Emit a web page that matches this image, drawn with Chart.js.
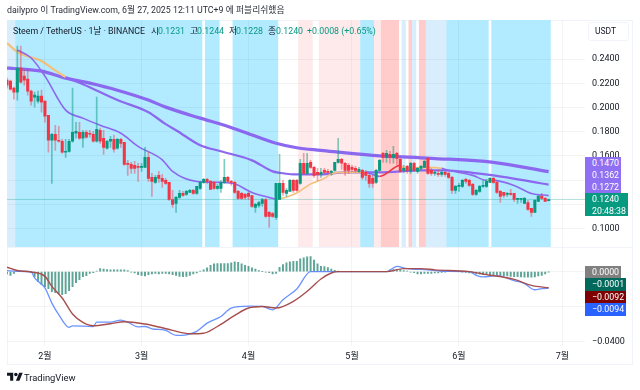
<!DOCTYPE html>
<html lang="ko">
<head>
<meta charset="utf-8">
<title>Steem / TetherUS</title>
<script src="https://cdn.jsdelivr.net/npm/chart.js@4"></script>
<style>
    html, body { margin: 0; padding: 0; background: #fff; }
    #wrap {
        position: relative; width: 640px; height: 390px; overflow: hidden;
        font-family: Roboto, "Noto Sans CJK KR", sans-serif; color: #131722;
    }
    #wrap > * { position: absolute; }
    #frame { left: 7px; top: 20px; width: 626px; height: 345px; border: 1px solid #f0f3fa; box-sizing: border-box; }
    #divider { left: 7px; top: 247px; width: 625px; height: 1px; background: #f0f3fa; }
    canvas { left: 0; top: 0; }
    #title { left: 7px; top: 4px; font-size: 8.8px; line-height: 13px; white-space: nowrap; color: #2a2e39; }
    .legend { top: 25px; font-size: 8.8px; line-height: 12px; white-space: nowrap; }
    .teal { color: #089981; }
    #usdt {
        left: 588px; top: 22px; width: 41px; height: 19px; box-sizing: border-box;
        border: 1px solid #f0f3fa; border-radius: 3px; font-size: 8.5px; line-height: 17px; padding-left: 6px;
    }
    .tag { left: 585px; color: #fff; font-size: 8.8px; line-height: 12px; padding-left: 7px; box-sizing: border-box; }
    #brand { left: 24px; top: 371px; font-size: 9.4px; line-height: 14px; color: #131722; }
</style>
</head>
<body>
<div id="wrap">
    <div id="frame"></div>
    <canvas id="main-chart" width="640" height="390"></canvas>
    <div id="divider"></div>
    <div id="title">dailypro 이 TradingView.com, 6월 27, 2025 12:11 UTC+9 에 퍼블리쉬했음</div>
    <div class="legend" style="left:13px">Steem / TetherUS · 1날 · BINANCE</div>
    <div class="legend" style="left:151px">시</div><div class="legend teal" style="left:158px">0.1231</div>
    <div class="legend" style="left:190px">고</div><div class="legend teal" style="left:197px">0.1244</div>
    <div class="legend" style="left:229px">저</div><div class="legend teal" style="left:236px">0.1228</div>
    <div class="legend" style="left:268px">종</div><div class="legend teal" style="left:276px">0.1240</div>
    <div class="legend teal" style="left:307px">+0.0008 (+0.65%)</div>
    <div id="usdt">USDT</div>
    <svg style="left:7px;top:371px" width="16" height="12.4" viewBox="0 0 36 28"><path fill="#131722" d="M14 22H7V11H0V4h14v18zM28 22h-8l7.5-18h8L28 22z"/><circle fill="#131722" cx="20" cy="8" r="4"/></svg>
    <div id="brand">TradingView</div>
</div>

<script>
// day 0 = Jan 21, one bar per day up to Jun 27
const monthDays = [11, 39, 70, 100, 131, 161]
const monthLabels = ['2월', '3월', '4월', '5월', '6월', '7월']
const priceTicks = [0.24, 0.22, 0.20, 0.18, 0.16, 0.14, 0.12, 0.10]
const macdTicks = [0, -0.02, -0.04]

const openVals = [
    .2226, .2218, .2160, .2127, .2326, .2259, .2234, .2135, .2086, .2052,
    .2094, .2052, .1936, .1729, .1779, .1729, .1721, .1630, .1638, .1721,
    .1787, .1795, .1746, .1795, .1787, .1779, .1721, .1812, .1746, .1663,
    .1721, .1737, .1663, .1737, .1713, .1539, .1530, .1522, .1514, .1505,
    .1505, .1588, .1423, .1381, .1439, .1414, .1398, .1381, .1240, .1207,
    .1257, .1290, .1282, .1298, .1315, .1290, .1331, .1381, .1406, .1389,
    .1381, .1331, .1331, .1381, .1423, .1389, .1381, .1307, .1290, .1282,
    .1290, .1273, .1174, .1191, .1207, .1240, .1133, .1124, .1091, .1240,
    .1373, .1290, .1307, .1398, .1398, .1373, .1539, .1456, .1547, .1505,
    .1464, .1447, .1481, .1472, .1464, .1481, .1547, .1572, .1539, .1522,
    .1505, .1497, .1472, .1481, .1464, .1439, .1414, .1381, .1481, .1621,
    .1588, .1613, .1588, .1621, .1572, .1481, .1514, .1472, .1539, .1472,
    .1497, .1505, .1580, .1481, .1456, .1456, .1447, .1464, .1456, .1423,
    .1315, .1348, .1348, .1406, .1398, .1365, .1282, .1307, .1348, .1348,
    .1381, .1414, .1381, .1307, .1298, .1282, .1290, .1290, .1240, .1240,
    .1207, .1215, .1166, .1133, .1224, .1265, .1249, .1231
]
const highVals = [
    .2243, .2226, .2168, .2508, .2508, .2309, .2317, .2143, .2127, .2135,
    .2143, .2052, .1936, .1787, .1853, .1845, .1737, .1737, .1737, .2160,
    .1878, .1878, .1812, .1812, .1812, .1804, .2086, .1829, .1812, .1729,
    .1762, .1771, .1746, .1746, .1713, .1563, .1547, .1555, .1539, .1539,
    .1671, .1630, .1456, .1439, .1472, .1447, .1414, .1381, .1315, .1265,
    .1315, .1307, .1315, .1323, .1323, .1348, .1389, .1414, .1414, .1398,
    .1389, .1365, .1398, .1572, .1431, .1398, .1389, .1315, .1298, .1290,
    .1298, .1273, .1207, .1224, .1249, .1249, .1141, .1133, .1373, .1613,
    .1398, .1331, .1406, .1406, .1406, .1572, .1621, .1621, .1563, .1514,
    .1497, .1497, .1497, .1489, .1481, .1547, .1746, .1580, .1547, .1539,
    .1522, .1514, .1505, .1489, .1481, .1456, .1439, .1489, .1572, .1630,
    .1646, .1638, .1679, .1630, .1580, .1522, .1522, .1547, .1547, .1505,
    .1522, .1563, .1588, .1497, .1472, .1481, .1481, .1472, .1464, .1431,
    .1356, .1373, .1406, .1414, .1406, .1373, .1323, .1356, .1398, .1406,
    .1423, .1423, .1389, .1315, .1298, .1298, .1323, .1290, .1249, .1249,
    .1257, .1232, .1166, .1240, .1273, .1290, .1257, .1244
]
const lowVals = [
    .2160, .2143, .2069, .2061, .2201, .2185, .2102, .2019, .2003, .2036,
    .1961, .1878, .1630, .1373, .1646, .1713, .1621, .1588, .1630, .1713,
    .1746, .1737, .1671, .1746, .1754, .1713, .1713, .1704, .1613, .1655,
    .1671, .1630, .1655, .1671, .1522, .1439, .1456, .1456, .1389, .1472,
    .1505, .1389, .1265, .1373, .1381, .1340, .1365, .1232, .1174, .1133,
    .1249, .1265, .1273, .1298, .1282, .1282, .1323, .1373, .1373, .1323,
    .1323, .1323, .1298, .1373, .1381, .1356, .1290, .1240, .1240, .1240,
    .1240, .1174, .1133, .1174, .1182, .1091, .1008, .1091, .1075, .1240,
    .1273, .1265, .1307, .1298, .1307, .1365, .1447, .1447, .1497, .1423,
    .1398, .1423, .1456, .1456, .1439, .1472, .1539, .1489, .1439, .1456,
    .1472, .1464, .1464, .1406, .1398, .1340, .1340, .1373, .1472, .1547,
    .1547, .1539, .1539, .1530, .1464, .1464, .1456, .1456, .1472, .1456,
    .1481, .1505, .1447, .1439, .1439, .1431, .1431, .1431, .1414, .1290,
    .1290, .1307, .1340, .1373, .1348, .1273, .1273, .1298, .1340, .1340,
    .1381, .1373, .1290, .1215, .1257, .1265, .1273, .1224, .1207, .1215,
    .1207, .1149, .1099, .1133, .1224, .1240, .1224, .1228
]
const closeVals = [
    .2185, .2152, .2127, .2326, .2210, .2226, .2135, .2052, .2102, .2094,
    .2044, .1928, .1729, .1779, .1729, .1721, .1630, .1638, .1721, .1795,
    .1804, .1746, .1795, .1754, .1779, .1721, .1820, .1721, .1671, .1721,
    .1737, .1655, .1737, .1704, .1530, .1530, .1497, .1497, .1505, .1514,
    .1588, .1414, .1389, .1423, .1414, .1389, .1373, .1240, .1199, .1257,
    .1290, .1273, .1307, .1315, .1290, .1348, .1381, .1406, .1389, .1323,
    .1331, .1348, .1381, .1423, .1389, .1381, .1298, .1249, .1249, .1257,
    .1265, .1182, .1199, .1215, .1240, .1099, .1099, .1099, .1373, .1373,
    .1298, .1315, .1398, .1315, .1315, .1539, .1456, .1539, .1505, .1439,
    .1447, .1464, .1464, .1464, .1472, .1547, .1572, .1539, .1481, .1481,
    .1489, .1481, .1489, .1423, .1439, .1373, .1373, .1481, .1563, .1588,
    .1621, .1588, .1613, .1580, .1472, .1497, .1481, .1539, .1481, .1497,
    .1514, .1555, .1456, .1456, .1464, .1447, .1464, .1447, .1423, .1315,
    .1348, .1356, .1398, .1389, .1356, .1282, .1315, .1348, .1356, .1389,
    .1414, .1381, .1298, .1265, .1273, .1290, .1282, .1240, .1249, .1249,
    .1249, .1157, .1133, .1232, .1265, .1249, .1224, .1240
]
const lastClose = 0.1240

// moving averages at the days listed
const maSlowDays = [0, 2, 10, 17, 24, 32, 41, 46, 56, 63, 68, 78, 84, 91, 106, 123, 141, 157]
const maSlowVals = [.2326, .2322, .2301, .2243, .2201, .2143, .2061, .2003, .1912, .1853, .1804, .1704, .1667, .1646, .1605, .1580, .1547, .1470]

const maMidDays = [0, 3, 10, 13, 17, 22, 32, 41, 46, 49, 56, 62, 71, 77, 79, 83, 91, 98, 105, 108, 120, 127, 135, 141, 150, 157]
const maMidVals = [.2533, .2459, .2384, .2326, .2251, .2193, .2061, .1961, .1862, .1812, .1688, .1638, .1563, .1472, .1460, .1447, .1447, .1464, .1464, .1464, .1481, .1481, .1460, .1439, .1398, .1362]
const maMidState = ['o', 'o', 'o', 'o']

const maFastDays = [3, 7, 11, 17, 22, 27, 33, 38, 45, 48, 55, 62, 66, 71, 76, 78, 84, 88, 92, 94, 98, 104, 106, 108, 114, 115, 122, 126, 128, 135, 139, 141, 147, 152, 157]
const maFastVals = [.2475, .2409, .2259, .1978, .1912, .1853, .1787, .1679, .1568, .1472, .1389, .1381, .1369, .1298, .1257, .1244, .1294, .1369, .1414, .1452, .1464, .1464, .1447, .1431, .1522, .1497, .1505, .1497, .1481, .1439, .1398, .1398, .1356, .1290, .1272]
const maFastState = ['p', 'p', 'p', 'p', 'p', 'p', 'p', 'p', 'p', 'p', 'p', 'p', 'p', 'p', 'p', 'o', 'o', 'o', 'o', 'o', 'o', 'p', 'p', 'r', 'o', 'o', 'o', 'p', 'p', 'p', 'o']

// background state per run of days: C cyan, L light blue, P pale red, R red, W none
const bandRuns = [['L', 3], ['C', 54], ['W', 1], ['C', 4], ['W', 4], ['C', 13], ['W', 6], ['P', 4], ['W', 2], ['P', 12], ['C', 4], ['P', 2], ['R', 5], ['W', 1], ['L', 1], ['W', 1], ['R', 1], ['L', 1], ['W', 1], ['R', 2], ['L', 6], ['C', 12], ['W', 1], ['C', 17]]

const macdHist = [
    -.0013, -.0021, -.0011, 0, 0, 0, 0, -.0006, -.0029, -.0057,
    -.0074, -.0086, -.0097, -.0114, -.0120, -.0126, -.0131, -.0126, -.0109, -.0086,
    -.0063, -.0046, -.0029, -.0023, -.0011, -.0006, .0003, .0017, .0015, .0011,
    .0010, .0010, .0010, .0010, .0010, .0006, -.0002, -.0007, -.0017, -.0021,
    -.0025, -.0017, -.0013, -.0011, -.0013, -.0011, -.0010, -.0013, -.0017, -.0021,
    -.0027, -.0029, -.0027, -.0021, -.0013, -.0007, .0002, .0010, .0021, .0036,
    .0044, .0046, .0046, .0046, .0046, .0050, .0055, .0053, .0044, .0036,
    .0030, .0021, .0015, .0006, 0, -.0002, -.0006, -.0013, -.0011, .0025,
    .0040, .0050, .0055, .0059, .0059, .0072, .0078, .0084, .0086, .0065,
    .0044, .0030, .0029, .0023, .0014, .0007, .0002, 0, 0, 0,
    0, 0, 0, 0, 0, 0, 0, 0, 0, 0,
    0, .0010, .0011, .0013, .0011, .0006, .0002, -.0002, -.0006, -.0013,
    -.0013, -.0011, -.0010, -.0010, -.0008, -.0008, -.0004, -.0002, 0, 0,
    0, 0, -.0002, -.0004, -.0007, -.0011, -.0013, -.0015, -.0017, -.0017,
    -.0019, -.0021, -.0023, -.0023, -.0023, -.0025, -.0027, -.0029, -.0029, -.0030,
    -.0032, -.0032, -.0032, -.0030, -.0025, -.0021, -.0013, -.0001
]
const macdLineDays = [0, 3, 7, 8, 11, 13, 15, 18, 19, 25, 26, 30, 33, 35, 38, 40, 42, 46, 49, 52, 55, 58, 62, 65, 70, 74, 77, 80, 84, 88, 110, 113, 116, 122, 126, 134, 136, 138, 142, 147, 150, 153, 155, 157]
const macdLineVals = [.0006, .0002, -.0002, -.0036, -.0093, -.0179, -.0245, -.0317, -.0308, -.0312, -.0287, -.0287, -.0276, -.0287, -.0314, -.0312, -.0325, -.0334, -.0363, -.0359, -.0340, -.0293, -.0255, -.0207, -.0196, -.0198, -.0217, -.0160, -.0099, 0, 0, .0030, .0017, .0010, .0002, 0, -.0021, -.0030, -.0023, -.0051, -.0068, -.0103, -.0097, -.0094]
const signalDays = [0, 3, 7, 11, 13, 16, 19, 22, 25, 30, 34, 40, 44, 48, 53, 57, 61, 66, 70, 74, 78, 83, 87, 91, 94, 96, 110, 115, 120, 124, 134, 139, 147, 152, 157]
const signalVals = [.0025, .0006, -.0002, -.0027, -.0084, -.0150, -.0241, -.0289, -.0308, -.0296, -.0285, -.0298, -.0315, -.0334, -.0353, -.0350, -.0312, -.0249, -.0207, -.0198, -.0207, -.0169, -.0112, -.0042, -.0008, 0, 0, .0017, .0017, .0010, 0, -.0017, -.0044, -.0078, -.0092]

// labels on the price axis: text, background, top, height, width
const axisTags = [
    ['0.1470', '#8f6ff2', 157, 12, 36],
    ['0.1362', '#8f6ff2', 169, 12, 36],
    ['0.1272', '#8f6ff2', 181, 12, 36],
    ['0.1240<br>20:48:38', '#089981', 193, 23, 43],
    ['0.0000', '#808080', 266, 12, 36],
    ['−0.0001', '#00695c', 278, 12.5, 41],
    ['−0.0092', '#7f0000', 290.5, 12.5, 41],
    ['−0.0094', '#2962ff', 303, 13, 41]
]

const wrap = document.getElementById('wrap')
axisTags.forEach(t => {
    const tag = document.createElement('div')
    tag.className = 'tag'
    tag.innerHTML = t[0]
    tag.style.cssText = `top:${t[2]}px;height:${t[3]}px;width:${t[4]}px;background:${t[1]}`
    wrap.appendChild(tag)
})

const upColor = '#089981'
const downColor = '#f23645'
const purple = '#8b68ef'
const stateColors = { p: purple, o: '#f5c07a', r: '#f23645' }
const bandColors = { C: '#b2ebff', L: '#d9eefd', P: '#ffeaeb', R: '#ffcbcb', W: 'rgba(0,0,0,0)' }

// grid sits above the opaque bands, so it has to be see-through
const gridColor = 'rgba(42,46,57,0.05)'
const tickFont = { family: 'Roboto, "Noto Sans CJK KR", sans-serif', size: 9 }

const priceMin = 0.0843
const priceMax = 0.2723
const macdMin = -0.042
const macdMax = 0.0137
const xMax = 167.54

// one background colour per day from the runs above
const bandPerDay = []
bandRuns.forEach(r => {
    for (let n = 0; n < r[1]; n++) bandPerDay.push(r[0])
})

const isUp = closeVals.map((c, i) => c >= openVals[i])
const toPoints = (days, vals) => days.map((d, i) => ({ x: d, y: vals[i] }))

function lineSet(days, vals, color, width, order, yAxisID) {
    return {
        type: 'line',
        data: toPoints(days, vals),
        borderColor: color,
        borderWidth: width,
        pointRadius: 0,
        cubicInterpolationMode: 'monotone',
        yAxisID: yAxisID,
        order: order
    }
}

const maMidSet = lineSet(maMidDays, maMidVals, purple, 2.2, 6, 'y')
maMidSet.segment = { borderColor: c => stateColors[maMidState[c.p0DataIndex] || 'p'] }
const maFastSet = lineSet(maFastDays, maFastVals, purple, 1.6, 5, 'y')
maFastSet.segment = { borderColor: c => stateColors[maFastState[c.p0DataIndex] || 'p'] }

new Chart(document.getElementById('main-chart'), {
    type: 'bar',
    data: {
        datasets: [
            {
                data: bandPerDay.map((b, i) => ({ x: i, y: [priceMin, priceMax] })),
                backgroundColor: bandPerDay.map(b => bandColors[b]),
                barThickness: 3.6,
                grouped: false,
                yAxisID: 'y',
                order: 10
            },
            {
                type: 'line',
                data: [{ x: 0, y: lastClose }, { x: xMax, y: lastClose }],
                borderColor: 'rgba(8,153,129,0.3)',
                borderWidth: 1,
                pointRadius: 0,
                yAxisID: 'y',
                order: 9
            },
            lineSet(maSlowDays, maSlowVals, purple, 3.2, 7, 'y'),
            maMidSet,
            maFastSet,
            {
                // wicks
                data: lowVals.map((l, i) => ({ x: i, y: [l, highVals[i]] })),
                backgroundColor: isUp.map(u => u ? 'rgba(8,153,129,0.5)' : 'rgba(242,54,69,0.45)'),
                barThickness: 1,
                grouped: false,
                yAxisID: 'y',
                order: 3
            },
            {
                // bodies
                data: openVals.map((o, i) => ({ x: i, y: [o, closeVals[i]] })),
                backgroundColor: isUp.map(u => u ? upColor : downColor),
                barThickness: 2.4,
                minBarLength: 1,
                grouped: false,
                yAxisID: 'y',
                order: 2
            },
            {
                data: macdHist.map((v, i) => ({ x: i, y: v })),
                backgroundColor: '#5ea597',
                barThickness: 1.3,
                grouped: false,
                yAxisID: 'yMacd',
                order: 4
            },
            lineSet(macdLineDays, macdLineVals, '#6a93ff', 1.3, 1, 'yMacd'),
            lineSet(signalDays, signalVals, '#a84e4e', 1.4, 0, 'yMacd')
        ]
    },
    options: {
        responsive: false,
        animation: false,
        layout: { padding: { left: 7, top: 20, right: 0, bottom: 26 } },
        plugins: { legend: { display: false }, tooltip: { enabled: false } },
        scales: {
            x: {
                type: 'linear',
                offset: false,
                min: 0,
                max: xMax,
                afterBuildTicks: s => { s.ticks = monthDays.map(v => ({ value: v })) },
                afterFit: s => { s.height = 18.5 },
                ticks: {
                    callback: v => monthLabels[monthDays.indexOf(v)],
                    autoSkip: false,
                    maxRotation: 0,
                    padding: 6,
                    font: tickFont,
                    color: '#131722'
                },
                grid: { color: gridColor, drawTicks: false, offset: false, z: 1 },
                border: { display: false }
            },
            y: {
                position: 'right',
                stack: 'panes',
                stackWeight: 227.5,
                min: priceMin,
                max: priceMax,
                afterBuildTicks: s => { s.ticks = priceTicks.map(v => ({ value: v })) },
                afterFit: s => { s.width = 55 },
                ticks: {
                    callback: v => v.toFixed(4),
                    padding: 7,
                    font: tickFont,
                    color: '#131722'
                },
                grid: { color: gridColor, drawTicks: false, z: 1 },
                border: { display: false }
            },
            yMacd: {
                position: 'right',
                stack: 'panes',
                stackWeight: 98,
                min: macdMin,
                max: macdMax,
                afterBuildTicks: s => { s.ticks = macdTicks.map(v => ({ value: v })) },
                afterFit: s => { s.width = 55 },
                ticks: {
                    callback: v => v.toFixed(4).replace('-', '−'),
                    padding: 7,
                    font: tickFont,
                    color: '#131722'
                },
                grid: { color: gridColor, drawTicks: false, z: 1 },
                border: { display: false }
            }
        }
    }
})
</script>
</body>
</html>
